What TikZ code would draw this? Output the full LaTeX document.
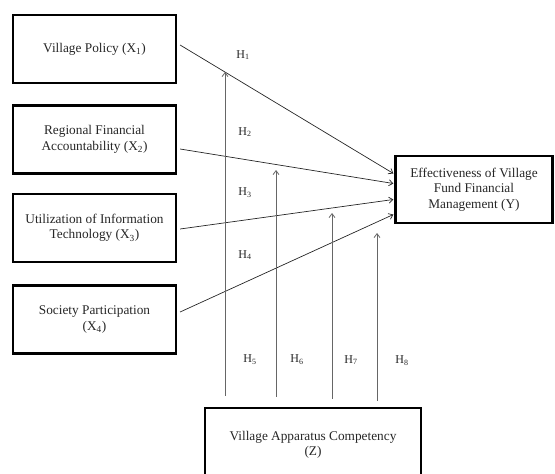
\documentclass[tikz,border=0pt]{standalone}
\usepackage{fontspec}
\setmainfont{Liberation Serif}
\usetikzlibrary{arrows.meta,calc}
\begin{document}
\begin{tikzpicture}[x=1pt,y=-1pt,
  box/.style={draw, line width=2.2pt, minimum width=163pt, minimum height=68pt, align=center,
    inner sep=0pt, font=\fontsize{13.3}{15.5}\selectfont, text=black!85},
  hl/.style={font=\fontsize{12}{14}\selectfont, text=black!85, inner sep=0pt},
  arr/.style={-{Straight Barb[length=4pt,width=6pt]}, line width=0.7pt, black!85},
  varr/.style={-{Straight Barb[length=4pt,width=6pt]}, line width=0.8pt, black!60}]
\useasboundingbox (0,0) rectangle (555,474);
\node[box] (X1) at (94.5,49) {Village Policy (X\textsubscript{1})};
\node[box] (X2) at (94.5,139.5) {Regional Financial\\Accountability (X\textsubscript{2})};
\node[box] (X3) at (94.5,228) {Utilization of Information\\Technology (X\textsubscript{3})};
\node[box] (X4) at (94.5,319.5) {Society Participation\\(X\textsubscript{4})};
\node[box, minimum width=157pt, minimum height=67pt] (Y) at (474,189.5) {Effectiveness of Village\\Fund Financial\\Management (Y)};
\node[box, minimum width=216pt, minimum height=74pt] (Z) at (313,445) {Village Apparatus Competency\\(Z)};
% arrow ends at Y
\coordinate (e1) at ($(Y.west)+(-1,-16)$);
\coordinate (e2) at ($(Y.west)+(-1,-6)$);
\coordinate (e3) at ($(Y.west)+(-1,10)$);
\coordinate (e4) at ($(Y.west)+(-1,25)$);
\coordinate (s1) at ($(X1.east)+(3,-4)$);
\coordinate (s2) at ($(X2.east)+(3,9.5)$);
\coordinate (s3) at ($(X3.east)+(3,1)$);
\coordinate (s4) at ($(X4.east)+(3,-7.5)$);
\draw[arr] (s1) -- (e1);
\draw[arr] (s2) -- (e2);
\draw[arr] (s3) -- (e3);
\draw[arr] (s4) -- (e4);
% vertical moderating arrows
\coordinate (b1) at ($(Z.north)+(-88,-11)$);
\coordinate (b2) at ($(Z.north)+(-37,-10)$);
\coordinate (b3) at ($(Z.north)+(19,-8)$);
\coordinate (b4) at ($(Z.north)+(64,-6)$);
\coordinate (t1) at (225,72);
\coordinate (t2) at (276,170);
\coordinate (t3) at (332,213);
\coordinate (t4) at (377,233);
\draw[varr] (b1) -- (t1);
\draw[varr] (b2) -- (t2);
\draw[varr] (b3) -- (t3);
\draw[varr] (b4) -- (t4);
% labels
\node[hl] (h1) at (243,55) {H\textsubscript{1}};
\node[hl] (h2) at (245,132) {H\textsubscript{2}};
\node[hl] (h3) at (245,193) {H\textsubscript{3}};
\node[hl] (h4) at (245,255) {H\textsubscript{4}};
\node[hl] (h5) at (250,360) {H\textsubscript{5}};
\node[hl] (h6) at (297,360) {H\textsubscript{6}};
\node[hl] (h7) at (351,360) {H\textsubscript{7}};
\node[hl] (h8) at (402,361) {H\textsubscript{8}};
\end{tikzpicture}
\end{document}
